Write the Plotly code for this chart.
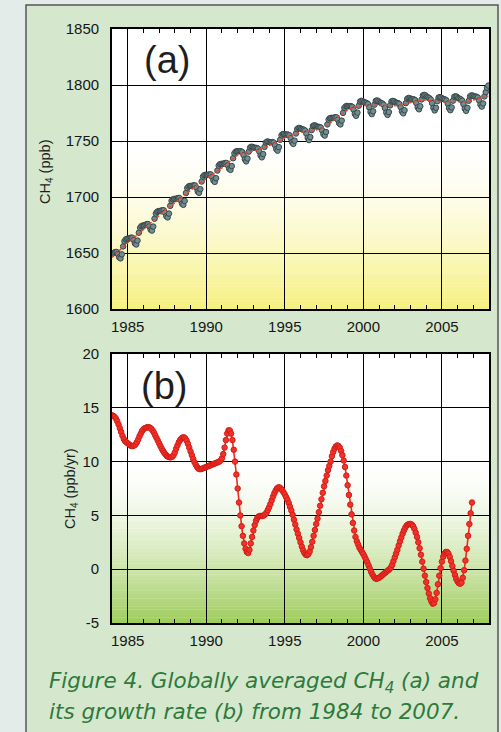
import plotly.graph_objects as go

# ---------------------------------------------------------------- data
years_a = list(range(1984, 2008))   # monthly CH4 means, one row per year
years_b = list(range(1984, 2007))   # monthly growth rate, one row per year

ch4_monthly = [
    1649.6, 1650.2, 1650.8, 1650.9, 1649.0, 1646.1, 1645.2, 1648.8, 1655.9, 1660.5, 1662.1, 1662.7,  # 1984
    1662.7, 1663.2, 1663.7, 1663.6, 1661.6, 1658.6, 1657.6, 1661.1, 1668.1, 1672.5, 1674.0, 1674.5,  # 1985
    1674.5, 1675.1, 1675.7, 1675.8, 1673.8, 1670.9, 1670.0, 1673.6, 1680.6, 1685.2, 1686.8, 1687.4,  # 1986
    1687.4, 1687.8, 1688.2, 1688.1, 1686.0, 1682.9, 1681.8, 1685.2, 1692.1, 1696.5, 1697.9, 1698.3,  # 1987
    1698.2, 1698.7, 1699.1, 1699.1, 1697.1, 1694.1, 1693.0, 1696.5, 1703.5, 1708.0, 1709.4, 1709.9,  # 1988
    1709.8, 1710.1, 1710.4, 1710.3, 1708.1, 1704.9, 1703.7, 1707.0, 1713.8, 1718.2, 1719.5, 1719.8,  # 1989
    1719.6, 1719.9, 1720.2, 1720.1, 1717.9, 1714.7, 1713.5, 1716.8, 1723.6, 1728.0, 1729.3, 1729.6,  # 1990
    1729.5, 1729.9, 1730.4, 1730.3, 1728.3, 1725.2, 1724.2, 1727.6, 1734.6, 1739.0, 1740.5, 1740.9,  # 1991
    1740.9, 1740.9, 1740.8, 1740.1, 1737.4, 1733.6, 1731.8, 1734.4, 1740.5, 1744.2, 1744.9, 1744.6,  # 1992
    1744.0, 1743.9, 1743.8, 1743.2, 1740.6, 1737.0, 1735.4, 1738.3, 1744.7, 1748.6, 1749.5, 1749.4,  # 1993
    1748.9, 1749.0, 1749.1, 1748.6, 1746.2, 1742.8, 1741.4, 1744.5, 1751.1, 1755.1, 1756.2, 1756.3,  # 1994
    1755.8, 1755.7, 1755.7, 1755.1, 1752.5, 1748.9, 1747.4, 1750.3, 1756.7, 1760.6, 1761.6, 1761.5,  # 1995
    1760.8, 1760.5, 1760.1, 1759.3, 1756.5, 1752.7, 1750.8, 1753.5, 1759.7, 1763.4, 1764.0, 1763.7,  # 1996
    1762.8, 1762.6, 1762.5, 1762.0, 1759.5, 1756.1, 1754.8, 1758.0, 1764.8, 1769.1, 1770.4, 1770.7,  # 1997
    1770.4, 1770.8, 1771.2, 1771.1, 1769.0, 1765.9, 1764.8, 1768.2, 1775.1, 1779.5, 1780.9, 1781.3,  # 1998
    1781.0, 1781.1, 1781.1, 1780.5, 1777.9, 1774.2, 1772.5, 1775.3, 1781.5, 1785.2, 1785.9, 1785.5,  # 1999
    1784.7, 1784.3, 1783.9, 1783.0, 1780.0, 1776.0, 1774.0, 1776.5, 1782.4, 1785.8, 1786.2, 1785.6,  # 2000
    1784.6, 1784.0, 1783.5, 1782.4, 1779.4, 1775.4, 1773.3, 1775.8, 1781.8, 1785.3, 1785.8, 1785.4,  # 2001
    1784.5, 1784.1, 1783.8, 1783.0, 1780.2, 1776.4, 1774.7, 1777.5, 1783.8, 1787.6, 1788.4, 1788.2,  # 2002
    1787.5, 1787.3, 1787.2, 1786.5, 1783.8, 1780.1, 1778.3, 1781.0, 1787.1, 1790.7, 1791.2, 1790.7,  # 2003
    1789.6, 1788.9, 1788.2, 1787.0, 1783.8, 1779.6, 1777.3, 1779.6, 1785.5, 1788.8, 1789.2, 1788.7,  # 2004
    1787.8, 1787.4, 1787.0, 1786.2, 1783.3, 1779.4, 1777.5, 1780.0, 1786.0, 1789.5, 1789.9, 1789.4,  # 2005
    1788.3, 1787.7, 1787.1, 1786.0, 1782.9, 1778.9, 1776.9, 1779.6, 1785.9, 1789.8, 1790.7, 1790.6,  # 2006
    1789.9, 1789.7, 1789.5, 1788.8, 1786.1, 1782.4, 1780.7, 1783.5, 1789.8, 1793.6, 1797.5, 1799.5,  # 2007
]

# deseasonalised trend (half-yearly)
trend_time = [
    1984.0, 1984.5, 1985.0, 1985.5, 1986.0, 1986.5, 1987.0, 1987.5, 1988.0, 1988.5,
    1989.0, 1989.5, 1990.0, 1990.5, 1991.0, 1991.5, 1992.0, 1992.5, 1993.0, 1993.5,
    1994.0, 1994.5, 1995.0, 1995.5, 1996.0, 1996.5, 1997.0, 1997.5, 1998.0, 1998.5,
    1999.0, 1999.5, 2000.0, 2000.5, 2001.0, 2001.5, 2002.0, 2002.5, 2003.0, 2003.5,
    2004.0, 2004.5, 2005.0, 2005.5, 2006.0, 2006.5, 2007.0, 2007.5, 2007.96,
]
trend_ch4 = [
    1646.0, 1653.0, 1659.2, 1664.9, 1671.0, 1677.6, 1683.9, 1689.4, 1694.7, 1700.5,
    1706.4, 1711.5, 1716.2, 1721.0, 1726.0, 1731.8, 1737.4, 1739.8, 1740.8, 1743.0,
    1745.6, 1748.9, 1752.6, 1755.7, 1757.7, 1758.6, 1759.7, 1762.6, 1767.0, 1772.6,
    1777.7, 1780.5, 1781.6, 1782.0, 1781.6, 1781.4, 1781.4, 1782.4, 1784.3, 1786.2,
    1786.7, 1785.5, 1784.7, 1785.4, 1785.4, 1784.9, 1786.7, 1788.5, 1790.2,
]

growth_monthly = [
    14.3, 14.25, 14.15, 14.0, 13.75, 13.45, 13.1, 12.75, 12.4, 12.1, 11.9, 11.8,   # 1984
    11.7, 11.6, 11.5, 11.45, 11.45, 11.5, 11.6, 11.8, 12.05, 12.35, 12.6, 12.85,   # 1985
    13.0, 13.1, 13.15, 13.2, 13.2, 13.15, 13.05, 12.9, 12.7, 12.45, 12.2, 11.95,   # 1986
    11.7, 11.45, 11.2, 11.0, 10.8, 10.65, 10.5, 10.45, 10.4, 10.4, 10.45, 10.6,    # 1987
    10.85, 11.2, 11.5, 11.8, 12.0, 12.15, 12.25, 12.25, 12.15, 11.95, 11.65, 11.3,  # 1988
    10.95, 10.6, 10.25, 9.95, 9.7, 9.5, 9.35, 9.3, 9.3, 9.35, 9.4, 9.45,           # 1989
    9.5, 9.55, 9.6, 9.65, 9.7, 9.75, 9.8, 9.85, 9.9, 9.95, 10.0, 10.1,             # 1990
    10.3, 10.7, 11.3, 12.0, 12.6, 12.9, 12.9, 12.6, 12.0, 11.1, 10.0, 8.8,         # 1991
    7.5, 6.2, 5.0, 4.0, 3.1, 2.4, 1.9, 1.6, 1.5, 1.8, 2.4, 3.0,                    # 1992
    3.6, 4.1, 4.5, 4.75, 4.9, 4.95, 4.95, 4.95, 5.0, 5.1, 5.25, 5.5,               # 1993
    5.75, 6.05, 6.4, 6.75, 7.05, 7.3, 7.5, 7.6, 7.6, 7.5, 7.35, 7.15,              # 1994
    6.95, 6.7, 6.45, 6.15, 5.8, 5.45, 5.05, 4.6, 4.15, 3.7, 3.3, 2.9,              # 1995
    2.5, 2.1, 1.75, 1.5, 1.35, 1.3, 1.4, 1.65, 2.05, 2.55, 3.1, 3.65,              # 1996
    4.2, 4.7, 5.3, 5.9, 6.5, 7.1, 7.7, 8.2, 8.7, 9.2, 9.6, 10.0,                   # 1997
    10.5, 10.9, 11.2, 11.4, 11.5, 11.45, 11.3, 11.0, 10.6, 10.1, 9.5, 8.7,         # 1998
    7.8, 6.9, 6.0, 5.1, 4.3, 3.6, 3.0, 2.6, 2.3, 2.0, 1.8, 1.6,                    # 1999
    1.4, 1.15, 0.9, 0.65, 0.35, 0.05, -0.25, -0.5, -0.7, -0.85, -0.9, -0.85,       # 2000
    -0.8, -0.7, -0.6, -0.5, -0.4, -0.3, -0.2, -0.1, 0.0, 0.15, 0.4, 0.75,          # 2001
    1.1, 1.45, 1.8, 2.2, 2.6, 2.95, 3.3, 3.6, 3.85, 4.05, 4.15, 4.2,               # 2002
    4.2, 4.15, 4.0, 3.75, 3.4, 3.0, 2.5, 1.95, 1.35, 0.7, 0.05, -0.6,              # 2003
    -1.2, -1.75, -2.25, -2.7, -3.0, -3.2, -3.15, -2.8, -2.2, -1.4, -0.6, 0.1,      # 2004
    0.7, 1.15, 1.45, 1.6, 1.6, 1.45, 1.15, 0.75, 0.3, -0.15, -0.55, -0.9,          # 2005
    -1.15, -1.3, -1.35, -1.25, -0.8, -0.1, 0.8, 1.9, 3.1, 4.2, 5.2, 6.2,           # 2006
]

year_ticks = [1985, 1990, 1995, 2000, 2005]
ch4_ticks = [1600, 1650, 1700, 1750, 1800, 1850]
rate_ticks = [-5, 0, 5, 10, 15, 20]

# decimal-year time stamps for the monthly values
t_a = [y + (m + 0.5) / 12 for y in years_a for m in range(12)]
t_b = [y + m / 12 for y in years_b for m in range(12)]

# ---------------------------------------------------------------- layout helpers
W, H = 501, 732
FONT = "Liberation Sans, Arial, Helvetica, sans-serif"
CAPTION_FONT = "DejaVu Sans, Liberation Sans, Arial, sans-serif"
X_RANGE = [1984, 2008]
CH4_RANGE = [1600, 1850]
RATE_RANGE = [-5, 20]


def fx(p):
    return p / W


def fy(p):
    return 1 - p / H


def plot_background(xref, yref, yrange, fade_top, rgb, n=60, power=1.6):
    """White plot area with strips fading from `rgb` at the bottom to white at `fade_top`."""
    lo, hi = yrange
    out = [dict(type="rect", xref=xref, yref=yref, x0=X_RANGE[0], x1=X_RANGE[1],
                y0=lo, y1=hi, layer="below", line=dict(width=0), fillcolor="white")]
    step = (fade_top - lo) / n
    for i in range(n):
        y0 = lo + i * step
        mid = (y0 + step / 2 - lo) / (fade_top - lo)
        k = (1 - mid) ** power
        col = tuple(round(255 + (c - 255) * k) for c in rgb)
        out.append(dict(type="rect", xref=xref, yref=yref, x0=X_RANGE[0], x1=X_RANGE[1],
                        y0=y0, y1=min(fade_top, y0 + step * 1.15), layer="below",
                        line=dict(width=0), fillcolor="rgb(%d,%d,%d)" % col))
    return out


fig = go.Figure()

# (a) monthly means
fig.add_trace(go.Scatter(
    x=t_a, y=ch4_monthly, mode="markers", xaxis="x", yaxis="y",
    marker=dict(size=5.5, color="#6f8e92", line=dict(color="#3a474a", width=1)),
    showlegend=False, hoverinfo="x+y"))
# (a) trend
fig.add_trace(go.Scatter(
    x=trend_time, y=trend_ch4, mode="lines", xaxis="x", yaxis="y",
    line=dict(color="#f2462c", width=1.5, dash="3px,2px"),
    showlegend=False, hoverinfo="x+y"))
# (b) growth rate
fig.add_trace(go.Scatter(
    x=t_b, y=growth_monthly, mode="lines+markers", xaxis="x2", yaxis="y2",
    line=dict(color="#ee2a22", width=1.6),
    marker=dict(size=5.5, color="#f0322a", line=dict(color="#d41d16", width=1)),
    showlegend=False, hoverinfo="x+y"))

tickfont = dict(family=FONT, size=15, color="#161616")
xcommon = dict(
    range=X_RANGE, tickvals=year_ticks, showgrid=True, gridcolor="black",
    gridwidth=1.4, zeroline=False, showline=True, linecolor="black", linewidth=1.7,
    mirror="allticks", ticks="inside", ticklen=4, tickcolor="black",
    minor=dict(tickvals=list(range(1984, 2009)), ticks="inside", ticklen=4,
               tickcolor="black", tickwidth=1, showgrid=False),
    tickfont=tickfont, ticklabelstandoff=3, automargin=False, fixedrange=True)
ycommon = dict(
    showgrid=True, gridcolor="black", gridwidth=1.4, showline=True,
    linecolor="black", linewidth=1.7, mirror=True, ticks="", tickfont=tickfont,
    ticklabelstandoff=8, automargin=False, fixedrange=True)

shapes = [
    # outer panel
    dict(type="rect", xref="paper", yref="paper", x0=fx(26), x1=fx(498),
         y0=-0.05, y1=fy(5), layer="below", fillcolor="#d5e8ce",
         line=dict(color="#565656", width=1.5)),
]
shapes += plot_background("x", "y", CH4_RANGE, 1750, (246, 240, 126))
shapes += plot_background("x2", "y2", RATE_RANGE, 10, (158, 204, 92))

ann_common = dict(showarrow=False, xref="paper", yref="paper")
annotations = [
    dict(text="CH<sub>4</sub> (ppb)", x=fx(46), y=fy(172), textangle=-90,
         font=dict(family=FONT, size=14.5, color="#1e1e1e"),
         xanchor="center", yanchor="middle", **ann_common),
    dict(text="CH<sub>4</sub> (ppb/yr)", x=fx(71), y=fy(489), textangle=-90,
         font=dict(family=FONT, size=14.5, color="#1e1e1e"),
         xanchor="center", yanchor="middle", **ann_common),
    dict(text="(a)", x=fx(167), y=fy(60), font=dict(family=FONT, size=38, color="#1e1e1e"),
         xanchor="center", yanchor="middle", **ann_common),
    dict(text="(b)", x=fx(164), y=fy(386), font=dict(family=FONT, size=38, color="#1e1e1e"),
         xanchor="center", yanchor="middle", **ann_common),
    dict(text="<i>Figure 4. Globally averaged CH<sub>4</sub> (a) and</i>",
         x=fx(47), y=fy(682), font=dict(family=CAPTION_FONT, size=21.5, color="#2d7a3c"),
         xanchor="left", yanchor="middle", **ann_common),
    dict(text="<i>its growth rate (b) from 1984 to 2007.</i>",
         x=fx(47), y=fy(711), font=dict(family=CAPTION_FONT, size=21.5, color="#2d7a3c"),
         xanchor="left", yanchor="middle", **ann_common),
]

fig.update_layout(
    width=W, height=H, margin=dict(l=0, r=0, t=0, b=0, autoexpand=False),
    paper_bgcolor="#e3ece8", plot_bgcolor="white",
    xaxis=dict(domain=[fx(112), fx(489)], anchor="y", **xcommon),
    yaxis=dict(domain=[fy(309), fy(29)], anchor="x", range=CH4_RANGE,
               tickvals=ch4_ticks, **ycommon),
    xaxis2=dict(domain=[fx(112), fx(489)], anchor="y2", **xcommon),
    yaxis2=dict(domain=[fy(623), fy(354)], anchor="x2", range=RATE_RANGE,
                tickvals=rate_ticks, ticktext=[str(v) for v in rate_ticks],
                zeroline=False, **ycommon),
    shapes=shapes, annotations=annotations,
)

fig.write_html("out.html")
